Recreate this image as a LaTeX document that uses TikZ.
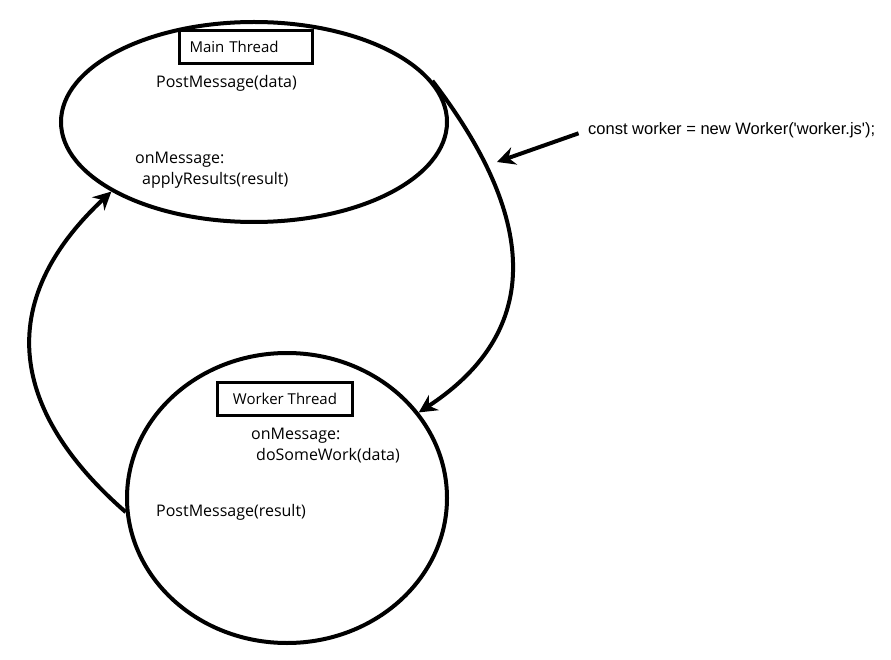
\documentclass[tikz,border=0pt]{standalone}
\usepackage{fontspec}
\setmainfont{Open Sans}
\newfontfamily\codefont{Liberation Sans}
\usetikzlibrary{shapes.geometric,arrows.meta}

\begin{document}
\begin{tikzpicture}[x=1pt,y=-1pt,
  thread/.style={draw,ellipse,line width=4pt,inner sep=0pt},
  title/.style={draw,line width=2.4pt,minimum width=133pt,minimum height=33pt,
    font=\fontsize{15}{17}\selectfont},
  txt/.style={anchor=west,inner sep=0pt,font=\fontsize{16}{18}\selectfont},
  flow/.style={line width=4pt,-{Stealth[length=18pt,width=18pt]}}]
  \useasboundingbox (0,0) rectangle (891,660);

  % Main thread
  \node[thread,minimum width=386pt,minimum height=200pt] (main) at (254,122) {};
  \node[title,inner xsep=10pt,text width=113pt,align=left] (mainlbl) at (246,47) {Main Thread};
  \node[txt] (postdata) at (156,83) {PostMessage(data)};
  \node[txt] (mainmsg) at (135,160) {onMessage:};
  \node[txt] (apply) at (142,180) {applyResults(result)};

  % Worker thread
  \node[thread,minimum width=320pt,minimum height=290pt] (worker) at (287,498) {};
  \node[title,minimum width=135pt] (workerlbl) at (285,399) {Worker Thread};
  \node[txt] (workermsg) at (251,436) {onMessage:};
  \node[txt] (dowork) at (256,456) {doSomeWork(data)};
  \node[txt] (postresult) at (156,512) {PostMessage(result)};

  % Messages between the threads
  \draw[flow] (main.13) .. controls (520,195) and (560,320) .. (worker.33);
  \draw[flow] (worker.185) .. controls (20,420) and (-15,310) .. (main.206);

  % Worker creation
  \node[txt,font=\codefont\fontsize{16.5}{18}\selectfont] (newworker) at (588,130)
    {const worker = new Worker('worker.js');};
  \coordinate (hit) at (497,162);
  \draw[flow,shorten <=10pt] (newworker.west) -- (hit);
\end{tikzpicture}
\end{document}
